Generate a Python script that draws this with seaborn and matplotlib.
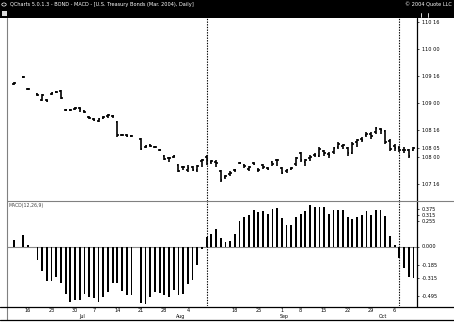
import numpy as np
import pandas as pd
import matplotlib
matplotlib.use("Agg")
import matplotlib.pyplot as plt
import seaborn as sns
from matplotlib.lines import Line2D
from matplotlib.patches import Rectangle, Circle
from matplotlib import transforms

sns.set_style("white")
plt.rcParams['font.family'] = ['DejaVu Sans']

# ---------------- data ----------------
title_text = "QCharts 5.0.1.3 - BOND - MACD - [U.S. Treasury Bonds (Mar. 2004), Daily]"
copyright_text = "\u00a9 2004 Quote LLC"
indicator_label = "MACD(12,26,9)"

holidays = ["2004-07-05", "2004-09-06"]
marker_dates = ["2004-08-10", "2004-10-07"]
label_dates = ["2004-06-16", "2004-06-23", "2004-06-30", "2004-07-07", "2004-07-14",
               "2004-07-21", "2004-07-28", "2004-08-04", "2004-08-18", "2004-08-25",
               "2004-09-01", "2004-09-08", "2004-09-15", "2004-09-22", "2004-09-29",
               "2004-10-06"]
month_names = ["Jul", "Aug", "Sep", "Oct"]

nan = np.nan
high = [109.39, nan, 109.50, 109.28, nan, 109.19, 109.17, 109.07, 109.20, 109.22,
        109.24, 108.89, 108.89, 108.93, 108.93, 108.87, 108.76, 108.72, 108.72, 108.76,
        108.80, 108.78, 108.67, 108.43, 108.43, 108.41, nan, 108.35, 108.22, 108.24,
        108.20, 108.15, 108.04, 108.00, 108.04, 107.87, 107.83, 107.85, 107.83, 107.85,
        107.96, 108.04, 107.94, 107.94, 107.76, 107.67, 107.74, 107.78, 107.91, 107.87,
        107.83, 107.91, 107.80, 107.87, 107.81, 107.93, 107.96, 107.81, 107.78, 107.81,
        108.00, 108.09, 107.96, 108.04, 108.07, 108.19, 108.13, 108.09, 108.19, 108.28,
        108.24, 108.19, 108.28, 108.33, 108.37, 108.46, 108.46, 108.56, 108.54, 108.50,
        108.33, 108.24, 108.20, 108.19, 108.15, 108.19]
low = [109.33, nan, 109.46, 109.24, nan, 109.13, 109.04, 109.02, 109.15, 109.19,
       109.07, 108.85, 108.85, 108.87, 108.83, 108.82, 108.70, 108.67, 108.65, 108.70,
       108.72, 108.72, 108.37, 108.39, 108.37, 108.37, nan, 108.13, 108.17, 108.19,
       108.17, 108.11, 107.94, 107.91, 107.98, 107.72, 107.76, 107.72, 107.74, 107.72,
       107.82, 107.85, 107.87, 107.82, 107.54, 107.59, 107.65, 107.72, 107.87, 107.80,
       107.74, 107.85, 107.72, 107.78, 107.76, 107.83, 107.83, 107.69, 107.70, 107.76,
       107.83, 107.91, 107.83, 107.93, 108.00, 108.00, 108.02, 107.98, 108.06, 108.15,
       108.15, 108.02, 108.06, 108.19, 108.28, 108.37, 108.33, 108.43, 108.43, 108.24,
       108.11, 108.11, 108.09, 108.07, 107.98, 108.11]
open_ = [109.35, nan, 109.48, 109.26, nan, 109.17, 109.06, 109.06, 109.17, 109.20,
         109.22, 108.87, 108.87, 108.89, 108.91, 108.85, 108.74, 108.70, 108.67, 108.72,
         108.76, 108.76, 108.65, 108.41, 108.41, 108.39, nan, 108.33, 108.19, 108.22,
         108.19, 108.13, 108.02, 107.98, 108.00, 107.85, 107.82, 107.76, 107.82, 107.76,
         107.93, 108.00, 107.91, 107.91, 107.74, 107.63, 107.69, 107.76, 107.89, 107.85,
         107.78, 107.89, 107.76, 107.85, 107.80, 107.91, 107.94, 107.80, 107.74, 107.78,
         107.87, 108.07, 107.91, 107.98, 108.04, 108.02, 108.11, 108.06, 108.09, 108.19,
         108.20, 108.17, 108.07, 108.28, 108.33, 108.41, 108.43, 108.46, 108.52, 108.48,
         108.30, 108.20, 108.17, 108.13, 108.13, 108.13]
close = [109.37, nan, 109.48, 109.26, nan, 109.15, 109.15, 109.04, 109.19, 109.20,
         109.09, 108.87, 108.87, 108.91, 108.89, 108.83, 108.72, 108.69, 108.70, 108.74,
         108.78, 108.76, 108.41, 108.41, 108.39, 108.39, nan, 108.15, 108.20, 108.20,
         108.19, 108.13, 107.96, 107.98, 108.02, 107.74, 107.82, 107.80, 107.76, 107.83,
         107.94, 107.94, 107.93, 107.89, 107.57, 107.65, 107.70, 107.76, 107.89, 107.83,
         107.82, 107.87, 107.76, 107.82, 107.78, 107.87, 107.94, 107.70, 107.76, 107.80,
         107.98, 107.94, 107.94, 108.00, 108.04, 108.15, 108.07, 108.04, 108.17, 108.24,
         108.22, 108.07, 108.24, 108.31, 108.31, 108.43, 108.39, 108.54, 108.50, 108.28,
         108.15, 108.17, 108.13, 108.13, 108.02, 108.17]
macd_hist = [0.07, nan, 0.115, 0.015, nan, -0.135, -0.245, -0.345, -0.345, -0.30,
             -0.36, -0.47, -0.555, -0.535, -0.535, -0.475, -0.505, -0.515, -0.55, -0.50,
             -0.45, -0.365, -0.365, -0.445, -0.485, -0.485, nan, -0.565, -0.57, -0.50,
             -0.45, -0.46, -0.485, -0.505, -0.435, -0.48, -0.47, -0.37, -0.335, -0.18,
             -0.02, 0.10, 0.125, 0.175, 0.085, 0.05, 0.055, 0.125, 0.255, 0.30,
             0.315, 0.365, 0.35, 0.355, 0.33, 0.375, 0.39, 0.29, 0.22, 0.215,
             0.30, 0.33, 0.355, 0.415, 0.40, 0.40, 0.40, 0.33, 0.365, 0.365,
             0.37, 0.30, 0.275, 0.295, 0.315, 0.355, 0.315, 0.365, 0.37, 0.305,
             0.105, 0.015, -0.115, -0.21, -0.30, -0.315]
price_ticks = [110.5, 110.0, 109.5, 109.0, 108.5, 108.0, 107.5]
macd_ticks = [0.375, 0.315, 0.255, 0.0, -0.185, -0.315, -0.495]
macd_tick_labels = ["0.375", "0.315", "0.255", "0.000", "-0.185", "-0.315", "-0.495"]

# ---------------- prep ----------------
dates = pd.bdate_range("2004-06-11", "2004-10-12")
dates = dates[~dates.isin(pd.to_datetime(holidays))]
pos = np.arange(len(dates), dtype=float)
date_to_pos = {d: i for i, d in enumerate(dates)}
high = np.array(high); low = np.array(low)
open_ = np.array(open_); close = np.array(close)
macd_hist = np.array(macd_hist)

def fmt32(p):
    whole = int(np.floor(p + 1e-9))
    frac = int(round((p - whole) * 32))
    if frac == 32:
        whole += 1; frac = 0
    return f"{whole} {frac:02d}"

# ---------------- figure ----------------
W, H = 454, 322
fig = plt.figure(figsize=(W / 100, H / 100), dpi=100)
fig.patch.set_facecolor("white")

def fy(py):
    return 1 - py / H

ax1 = fig.add_axes([7 / W, fy(201), 410 / W, 183 / H])
ax2 = fig.add_axes([7 / W, fy(306), 410 / W, 105 / H])

xlim = (-1.47, 85.76)
px_unit = 0.35  # approx 1.6 px in data units

# price OHLC bars
ax1.vlines(pos, low, high, color="black", lw=1.2)
ax1.hlines(open_, pos - px_unit, pos, color="black", lw=1.2)
ax1.hlines(close, pos, pos + px_unit, color="black", lw=1.2)
ax1.set_xlim(*xlim)
ax1.set_ylim(107.185, 110.574)

# MACD histogram
valid = ~np.isnan(macd_hist)
df = pd.DataFrame({"pos": pos[valid], "hist": macd_hist[valid]})
sns.barplot(data=df, x="pos", y="hist", native_scale=True, color="black",
            saturation=1, width=0.38, errorbar=None, linewidth=0, ax=ax2)
ax2.axhline(0, color="#8a8a8a", lw=0.8, zorder=0)
ax2.set_xlim(*xlim)
ax2.set_ylim(-0.595, 0.455)
ax2.set_xlabel(""); ax2.set_ylabel("")

# marker dotted lines
for d in marker_dates:
    xm = date_to_pos[pd.Timestamp(d)]
    for ax in (ax1, ax2):
        ax.axvline(xm, color="black", lw=0.8, ls=(0, (1.2, 1.2)))

# axes styling
for ax in (ax1, ax2):
    for s in ax.spines.values():
        s.set_visible(False)
    ax.set_facecolor("white")

# upper right ticks
last_close = close[~np.isnan(close)][-1]
ax1.yaxis.tick_right()
ax1.set_yticks(price_ticks + [last_close])
ax1.set_yticklabels([fmt32(p) for p in price_ticks + [last_close]])
ax1.tick_params(axis="y", length=1.5, width=0.5, pad=2, labelsize=3.6, colors="black")
week_pos = [date_to_pos[pd.Timestamp(d)] for d in label_dates]
ax1.set_xticks(week_pos)
ax1.set_xticklabels([])
ax1.tick_params(axis="x", direction="in", length=1.2, width=0.6, colors="#777777")

ax2.yaxis.tick_right()
ax2.set_yticks(macd_ticks)
ax2.set_yticklabels(macd_tick_labels)
ax2.tick_params(axis="y", length=1.5, width=0.5, pad=2, labelsize=3.6, colors="black")
ax2.set_xticks(week_pos)
ax2.set_xticklabels([str(pd.Timestamp(d).day) for d in label_dates])
ax2.tick_params(axis="x", length=0, pad=1.2, labelsize=3.6, colors="black")

# month labels (first trading day of each month)
trans = transforms.blended_transform_factory(ax2.transData, ax2.transAxes)
for m in month_names:
    first = [d for d in dates if d.strftime("%b") == m][0]
    ax2.text(date_to_pos[first] + 0.5, -0.075, m, transform=trans, ha="center", va="top",
             fontsize=3.4, color="black")

ax2.text(0.004, 0.985, indicator_label, transform=ax2.transAxes, ha="left", va="top",
         fontsize=3.3, color="#444444")

# frame lines (figure pixels)
def hline(y, x0, x1, color, lw=0.8):
    fig.add_artist(Line2D([x0 / W, x1 / W], [fy(y), fy(y)], color=color, lw=lw,
                          transform=fig.transFigure))

def vline(x, y0, y1, color, lw=0.8):
    fig.add_artist(Line2D([x / W, x / W], [fy(y0), fy(y1)], color=color, lw=lw,
                          transform=fig.transFigure))

vline(7, 18, 320, "#808080")
vline(417, 18, 306.5, "black", lw=0.9)
hline(201, 7, W, "#808080")
hline(306.5, 0, W, "black", lw=0.9)
hline(319.5, 0, W, "black", lw=0.9)

# title bar
fig.add_artist(Rectangle((0, fy(18)), 1, 18 / H, transform=fig.transFigure,
                         facecolor="black", edgecolor="none"))
fig.add_artist(Circle((4 / W, fy(4.5)), 2.2 / W, transform=fig.transFigure,
                      facecolor="none", edgecolor="white", lw=0.5))
fig.add_artist(Rectangle((2 / W, fy(16)), 5 / W, 5 / H, transform=fig.transFigure,
                         facecolor="#dddddd", edgecolor="none"))
fig.text(10 / W, fy(4.8), title_text, color="white", fontsize=3.6, ha="left", va="center")
fig.text(452 / W, fy(4.8), copyright_text, color="white", fontsize=3.6, ha="right", va="center")
vline(421, 12.5, 17, "white", lw=0.6)
vline(428, 12.5, 17, "white", lw=0.6)

fig.savefig("out.png", dpi=100, facecolor="white")
